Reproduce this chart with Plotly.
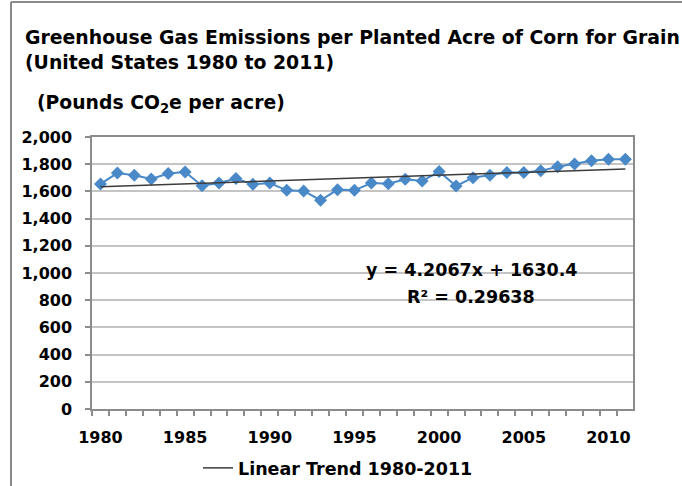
import plotly.graph_objects as go

years = list(range(1980, 2012))
emissions = [1655, 1735, 1718, 1691, 1731, 1743, 1642, 1662, 1694, 1652,
             1662, 1608, 1603, 1535, 1613, 1608, 1662, 1656, 1689, 1676,
             1746, 1640, 1701, 1718, 1739, 1739, 1751, 1781, 1801, 1826,
             1836, 1836]
trend_slope = 4.2067
trend_intercept = 1630.4
r_squared = 0.29638
x_tick_vals = [1980, 1985, 1990, 1995, 2000, 2005, 2010]
y_tick_vals = [0, 200, 400, 600, 800, 1000, 1200, 1400, 1600, 1800, 2000]
y_tick_text = ["0", "200", "400", "600", "800", "1,000", "1,200", "1,400",
               "1,600", "1,800", "2,000"]

trend_x = [years[0], years[-1]]
trend_y = [trend_slope * (y - years[0] + 1) + trend_intercept for y in trend_x]

FONT = "DejaVu Sans"
L, R, T, B = 92, 49, 137, 77
W, H = 682, 486
PW, PH = W - L - R, H - T - B


def px(xp):
    return (xp - L) / PW


def py(yp):
    return (H - B - yp) / PH


fig = go.Figure()
fig.add_trace(go.Scatter(
    x=years, y=emissions, mode="lines+markers",
    line=dict(color="#4A89C8", width=2),
    marker=dict(symbol="diamond", size=10, color="#4A89C8"),
    showlegend=False, hoverinfo="x+y"))
fig.add_trace(go.Scatter(
    x=trend_x, y=trend_y, mode="lines",
    line=dict(color="#3c3c3c", width=1.5),
    name="Linear Trend 1980-2011", showlegend=True))

fig.update_layout(
    width=W, height=H,
    margin=dict(l=L, r=R, t=T, b=B, pad=0, autoexpand=False),
    paper_bgcolor="white", plot_bgcolor="white",
    font=dict(family=FONT, color="black"),
    showlegend=True,
    legend=dict(orientation="h", xref="container", yref="container",
                x=198 / W, xanchor="left",
                y=(H - 468) / H, yanchor="middle",
                font=dict(family=FONT, size=17.5, weight="bold", color="black"),
                bgcolor="rgba(0,0,0,0)"),
)

fig.update_xaxes(
    range=[1979.5, 2011.45],
    tickvals=x_tick_vals, ticks="", showgrid=False,
    tickfont=dict(family=FONT, size=16, weight="bold", color="black"),
    showline=True, linecolor="#8c8c8c", linewidth=1.5, mirror=True,
    zeroline=False,
    minor=dict(tickvals=[y - 0.5 for y in years] + [years[-1] + 0.5],
               ticks="outside", ticklen=5, tickcolor="#8c8c8c", tickwidth=1.5,
               showgrid=False),
    ticklabelstandoff=13,
)
fig.update_yaxes(
    range=[0, 2000], tickvals=y_tick_vals, ticktext=y_tick_text,
    ticks="outside", ticklen=5, tickcolor="#8c8c8c", tickwidth=1.5,
    showgrid=True, gridcolor="#c4c4c4", gridwidth=1.5,
    tickfont=dict(family=FONT, size=16, weight="bold", color="black"),
    showline=True, linecolor="#8c8c8c", linewidth=1.5, mirror=True,
    zeroline=False, ticklabelstandoff=10,
)

annos = [
    dict(text="Greenhouse Gas Emissions per Planted Acre of Corn for Grain",
         x=px(23), y=py(38), size=18.85),
    dict(text="(United States 1980 to 2011)", x=px(23), y=py(62), size=18.85),
    dict(text="(Pounds CO<sub>2</sub>e per acre)", x=px(35), y=py(104), size=18.8),
]
for a in annos:
    fig.add_annotation(text=a["text"], xref="paper", yref="paper",
                       x=a["x"], y=a["y"], xanchor="left", yanchor="middle",
                       showarrow=False,
                       font=dict(family=FONT, size=a["size"], weight="bold",
                                 color="black"))

fig.add_annotation(text=f"y = {trend_slope}x + {trend_intercept}",
                   xref="paper", yref="paper", x=px(471), y=py(270),
                   xanchor="center", yanchor="middle", showarrow=False,
                   font=dict(family=FONT, size=17.5, weight="bold", color="black"))
fig.add_annotation(text=f"R² = {r_squared}",
                   xref="paper", yref="paper", x=px(471), y=py(297),
                   xanchor="center", yanchor="middle", showarrow=False,
                   font=dict(family=FONT, size=17.5, weight="bold", color="black"))

# outer chart frame (left and top edges visible)
fig.add_shape(type="line", xref="paper", yref="paper",
              x0=px(11), x1=px(11), y0=py(2), y1=py(490),
              line=dict(color="#8a8a8a", width=2))
fig.add_shape(type="line", xref="paper", yref="paper",
              x0=px(11), x1=px(690), y0=py(2), y1=py(2),
              line=dict(color="#8a8a8a", width=2))

fig.write_html("out.html",
               config={"displayModeBar": False},
               post_script="document.body.style.margin='0';"
                           "document.body.style.padding='0';"
                           "document.documentElement.style.overflow='hidden';")
